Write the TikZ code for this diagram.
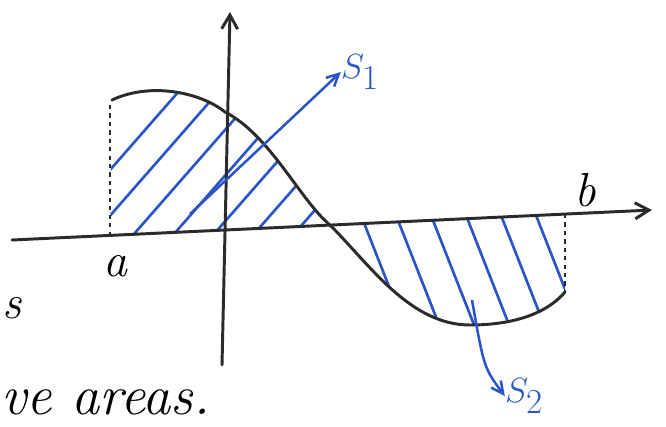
\documentclass[tikz,border=0pt]{standalone}
\usepackage{tikz}
\usetikzlibrary{arrows.meta}
\definecolor{ink}{HTML}{2B2B2B}
\definecolor{pen}{HTML}{2A55C8}

\begin{document}
\begin{tikzpicture}[x=0.025cm,y=-0.025cm,every node/.style={font=\fontsize{34}{36}\selectfont\itshape,inner sep=0pt},axisline/.style={draw=ink,line width=2.1pt,line cap=round},curveline/.style={draw=ink,line width=2.1pt,line cap=round},edge/.style={draw=ink,line width=1.3pt,dashed},hatchline/.style={draw=pen,line width=1.9pt,line cap=round},pointer/.style={draw=pen,line width=1.8pt,-{Straight Barb[length=3mm,width=3mm]}},lbl/.style={text=pen,font=\fontsize{38}{40}\selectfont}]
\useasboundingbox (0,0) rectangle (666,427);
\coordinate (c0) at (112,100); \coordinate (c1) at (225,112); \coordinate (c2) at (330,225);
\coordinate (c3) at (470,325); \coordinate (c4) at (565,292);
% shaded parts
\begin{scope}
\clip (c0) .. controls (150,82) and (200,92) .. (c1) .. controls (270,135) and (300,200) .. (c2) -- (110,236) -- cycle;
\foreach \o in {40,80,...,360} \draw[hatchline] (\o,250) -- (\o+140,90);
\end{scope}
\begin{scope}
\clip (c2) .. controls (370,265) and (410,325) .. (c3) .. controls (520,325) and (550,310) .. (c4) -- (565,214) -- cycle;
\foreach \o in {320,355,...,600} \draw[hatchline] (\o,200) -- (\o+55,340);
\end{scope}
\draw[edge] (110,105) -- (110,236);
\draw[edge] (565,214) -- (565,292);
% axes
\draw[axisline,-{Straight Barb[length=3.5mm,width=4mm]}] (12,240) -- (652,210);
\draw[axisline,-{Straight Barb[length=3.5mm,width=4mm]}] (222,365) -- (230,12);
\draw[curveline] (c0) .. controls (150,82) and (200,92) .. (c1) .. controls (270,135) and (300,200) .. (c2) .. controls (370,265) and (410,325) .. (c3) .. controls (520,325) and (550,310) .. (c4);
\node (a) at (115,266) {a};
\node (b) at (585,190) {b};
% labels
\node[lbl] (s1) at (360,72) {$S_1$};
\node[lbl] (s2) at (524,396) {$S_2$};
\coordinate (p1) at (190,214);
\coordinate (p2) at (472,300);
\draw[pointer] (p1) -- (s1.west);
\draw[pointer] (p2) .. controls (484,368) .. (s2.west);
\node (txs) at (12,308) {s};
\node[anchor=west,font=\fontsize{40}{42}\selectfont\itshape] (txt) at (1,402) {ve areas.};
\end{tikzpicture}
\end{document}
